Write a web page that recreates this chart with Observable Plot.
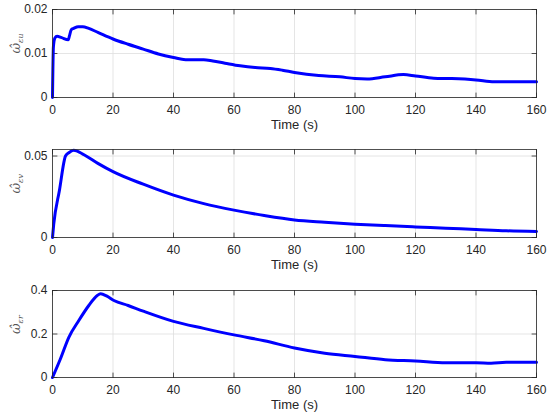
<!DOCTYPE html>
<html><head><meta charset="utf-8">
<script src="https://cdn.jsdelivr.net/npm/d3@7"></script>
<script src="https://cdn.jsdelivr.net/npm/@observablehq/plot@0.6"></script>
<style>body{margin:0;background:#fff} #c{width:550px} #c svg{display:block}</style>
</head><body><div id="c"></div>
<script>
const xTicks = [0, 20, 40, 60, 80, 100, 120, 140, 160];
const xLabel = "Time (s)";

const tU = [0, 0.3, 0.8, 1.5, 3, 5.2, 5.6, 6.2, 7, 8.5, 10, 12, 15, 20, 25, 30, 35, 40, 44, 50, 53, 57, 62, 67, 72, 76, 80, 88, 95, 100, 104, 110, 116, 120, 126, 132, 140, 146, 150, 160];
const wU = [0, 0.0115, 0.0135, 0.0139, 0.0136, 0.0131, 0.0140, 0.0154, 0.0157, 0.0161, 0.0161, 0.0157, 0.0148, 0.0133, 0.0121, 0.0110, 0.0099, 0.0091, 0.0086, 0.0086, 0.0083, 0.0078, 0.0072, 0.0068, 0.0066, 0.0062, 0.0057, 0.0050, 0.0047, 0.0043, 0.0042, 0.0047, 0.0052, 0.0049, 0.0044, 0.0043, 0.0040, 0.0036, 0.0036, 0.0036];
const yTicksU = [0, 0.01, 0.02];

const tV = [0, 0.4, 2.3, 4.3, 5.4, 7, 10, 15, 20, 30, 40, 50, 60, 70, 80, 90, 100, 110, 120, 130, 140, 150, 160];
const wV = [0, 0.008, 0.029, 0.050, 0.052, 0.0535, 0.0512, 0.0455, 0.0404, 0.0327, 0.026, 0.0208, 0.0168, 0.0135, 0.0108, 0.0094, 0.0082, 0.0073, 0.0065, 0.0057, 0.0049, 0.0041, 0.0037];
const yTicksV = [0, 0.05];

const tR = [0, 2.6, 5.4, 8.7, 12, 14.8, 15.9, 18, 20.3, 25, 30, 40, 50, 60, 70, 80, 90, 100, 110, 120, 130, 140, 145, 150, 160];
const wR = [0, 0.085, 0.185, 0.262, 0.331, 0.377, 0.385, 0.374, 0.354, 0.331, 0.305, 0.258, 0.226, 0.196, 0.169, 0.136, 0.112, 0.097, 0.082, 0.076, 0.068, 0.068, 0.066, 0.070, 0.070];
const yTicksR = [0, 0.2, 0.4];

const panels = [
  {t: tU, w: wU, yDomain: [0, 0.02], yTicks: yTicksU, sub: "εu", height: 140, mt: 9, mb: 43},
  {t: tV, w: wV, yDomain: [0, 0.054], yTicks: yTicksV, sub: "εv", height: 140, mt: 9, mb: 43},
  {t: tR, w: wR, yDomain: [0, 0.4], yTicks: yTicksR, sub: "εr", height: 139, mt: 10, mb: 42}
];

const tickShape = {draw(ctx, l) { ctx.moveTo(0, 0); ctx.lineTo(0, -l); }};
const tk = {length: 4.5, anchor: "start", shape: tickShape, stroke: "#262626", strokeWidth: 0.8};

const box = document.getElementById("c");
for (const pn of panels) {
  const data = pn.t.map((x, i) => ({t: x, w: pn.w[i]}));
  const p = Plot.plot({
    width: 550, height: pn.height,
    marginLeft: 52, marginRight: 14, marginTop: pn.mt, marginBottom: pn.mb,
    style: {fontFamily: "'Liberation Sans', Arial, sans-serif", fontSize: "12px", color: "#262626", background: "white"},
    x: {domain: [0, 160]},
    y: {domain: pn.yDomain},
    marks: [
      Plot.gridX(xTicks, {stroke: "#dedede", strokeOpacity: 1, strokeWidth: 0.8}),
      Plot.gridY(pn.yTicks, {stroke: "#dedede", strokeOpacity: 1, strokeWidth: 0.8}),
      Plot.axisX(xTicks, {tickSize: 0, tickPadding: 8, label: null, tickFormat: d => String(d), fontSize: 12}),
      Plot.axisY(pn.yTicks, {tickSize: 0, tickPadding: 5, label: null, tickFormat: d => String(d), fontSize: 12}),
      Plot.vector(xTicks, {x: d => d, frameAnchor: "bottom", rotate: 0, ...tk}),
      Plot.vector(xTicks, {x: d => d, frameAnchor: "top", rotate: 180, ...tk}),
      Plot.vector(pn.yTicks, {y: d => d, frameAnchor: "left", rotate: 90, ...tk}),
      Plot.vector(pn.yTicks, {y: d => d, frameAnchor: "right", rotate: 270, ...tk}),
      Plot.line(data, {x: "t", y: "w", stroke: "#0000ff", strokeWidth: 3, curve: "monotone-x"}),
      Plot.frame({stroke: "#262626", strokeWidth: 0.8}),
      Plot.text([xLabel], {frameAnchor: "bottom", dy: 31, fontSize: 13, fill: "#262626"}),
      Plot.text([pn.sub], {frameAnchor: "left", dx: -36, rotate: -90, fill: "#555"})
    ]
  });
  const el = Array.from(p.querySelectorAll("text")).find(e => e.textContent === pn.sub);
  if (el) {
    el.textContent = "";
    const s = d3.select(el).attr("font-family", "'DejaVu Serif', serif").attr("font-style", "italic");
    s.append("tspan").attr("font-size", 13).text("ω\u0302");
    s.append("tspan").attr("font-size", 8).attr("dy", "0.35em").text(pn.sub);
  }
  box.appendChild(p);
}
</script>
</body></html>
